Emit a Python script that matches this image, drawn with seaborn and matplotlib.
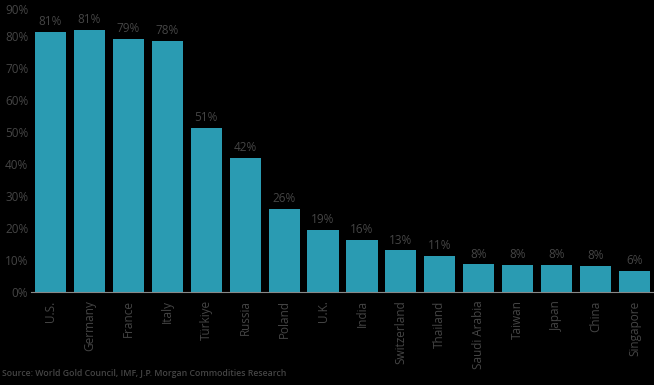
import matplotlib
matplotlib.use("Agg")
import matplotlib.pyplot as plt
import pandas as pd
import seaborn as sns
import numpy as np

paises = ["U.S.", "Germany", "France", "Italy", "Türkiye", "Russia", "Poland", "U.K.",
          "India", "Switzerland", "Thailand", "Saudi Arabia", "Taiwan", "Japan", "China", "Singapore"]
valores = [81.3, 81.8, 79.0, 78.5, 51.2, 42.0, 26.0, 19.3,
           16.2, 13.0, 11.4, 8.6, 8.4, 8.4, 8.1, 6.5]
etiquetas = ["81%", "81%", "79%", "78%", "51%", "42%", "26%", "19%",
             "16%", "13%", "11%", "8%", "8%", "8%", "8%", "6%"]
yticks = [0, 10, 20, 30, 40, 50, 60, 70, 80, 90]

sns.set_theme(style="white")
plt.rcParams["font.family"] = ["Open Sans", "DejaVu Sans"]
gris = "#454545"

df = pd.DataFrame({"pais": paises, "valor": valores})

fig = plt.figure(figsize=(6.54, 3.85), dpi=100, facecolor="black")
ax = fig.add_axes([31 / 654, 1 - 292 / 385, 1 - 31 / 654, (292 - 4) / 385])
ax.set_facecolor("black")

sns.barplot(data=df, x="pais", y="valor", color="#2a9bb2", saturation=1, width=0.8,
            linewidth=0, edgecolor="none", ax=ax)

for i, (v, t) in enumerate(zip(valores, etiquetas)):
    ax.text(i, v + 1.2, t, ha="center", va="bottom", color=gris, fontsize=8.5)

ax.set_ylim(0, 90)
ax.set_xlim(-0.5, len(paises) - 0.5)
ax.set_yticks(yticks)
ax.set_yticklabels([f"{y}%" for y in yticks], color=gris, fontsize=8.5)
ax.get_yticklabels()[-1].set_va("top")
ax.set_xticks(range(len(paises)))
ax.set_xticklabels(paises, rotation=90, color=gris, fontsize=8.5)
ax.tick_params(axis="x", which="major", length=0, pad=6)
ax.tick_params(axis="y", length=0, pad=2)
ax.set_xticks(np.arange(-0.5, len(paises), 1), minor=True)
ax.tick_params(axis="x", which="minor", length=3, color="#c87a5a", width=0.8, direction="out")
ax.set_xlabel("")
ax.set_ylabel("")

for s in ["top", "right", "left"]:
    ax.spines[s].set_visible(False)
ax.spines["bottom"].set_color("#888888")
ax.spines["bottom"].set_linewidth(0.8)

fig.text(2 / 654, 1 - 374 / 385, "Source: World Gold Council, IMF, J.P. Morgan Commodities Research",
         color=gris, fontsize=6.3, ha="left", va="center", fontweight="semibold")

fig.savefig("out.png", dpi=100, facecolor="black")
